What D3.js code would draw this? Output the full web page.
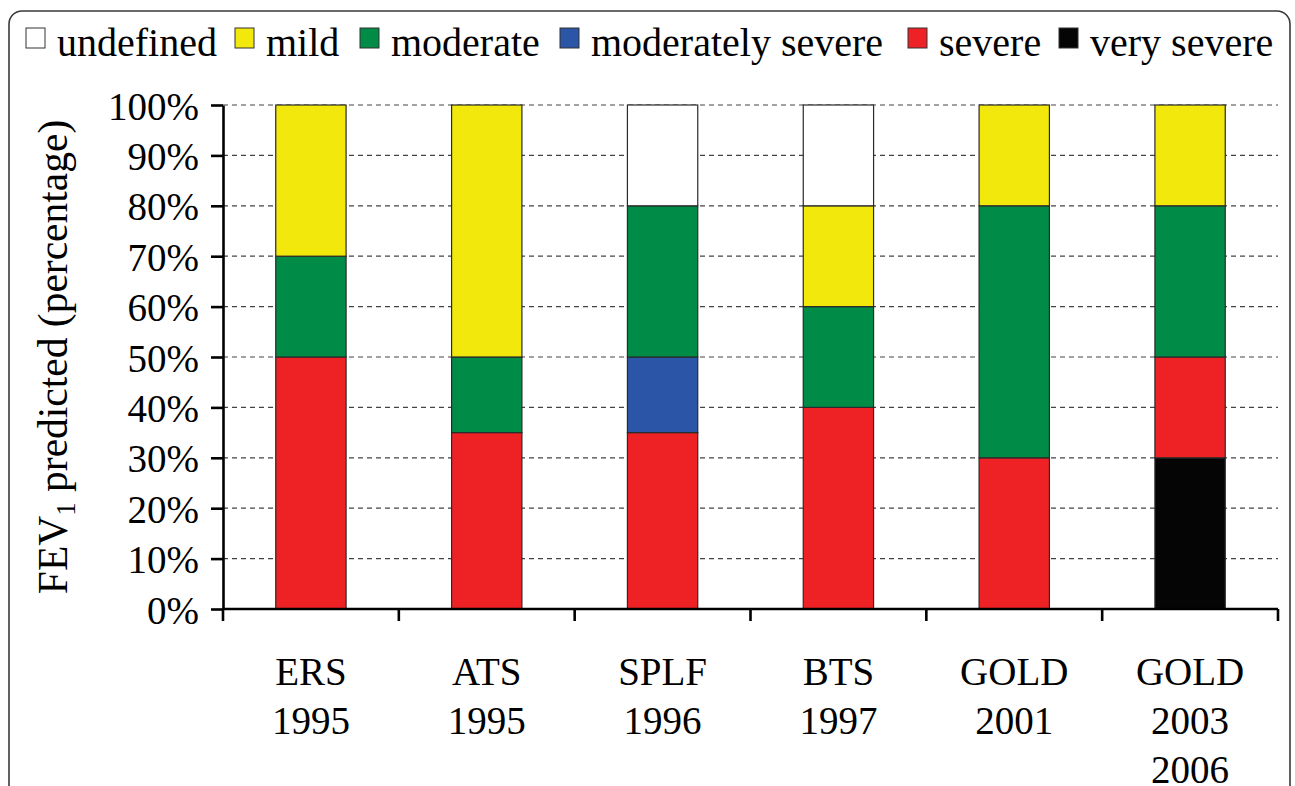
<!DOCTYPE html>
<html>
<head>
<meta charset="utf-8">
<script src="https://cdn.jsdelivr.net/npm/d3@7"></script>
<style>
body { margin: 0; background: #fff; }
svg { display: block; font-family: "Liberation Serif", "Times New Roman", serif; }
</style>
</head>
<body>
<svg id="chart" width="1295" height="786"></svg>
<script>
// categories (two-line labels)
var categories = ["ERS 1995", "ATS 1995", "SPLF 1996", "BTS 1997", "GOLD 2001", "GOLD 2003 2006"];
var catLines = [["ERS", "1995"], ["ATS", "1995"], ["SPLF", "1996"], ["BTS", "1997"], ["GOLD", "2001"], ["GOLD", "2003", "2006"]];

// severity series, stacked from the bottom
var severities = ["very severe", "severe", "moderately severe", "moderate", "mild", "undefined"];
var verySevere       = [0, 0, 0, 0, 0, 30];
var severe           = [50, 35, 35, 40, 30, 20];
var moderatelySevere = [0, 0, 15, 0, 0, 0];
var moderate         = [20, 15, 30, 20, 50, 30];
var mild             = [30, 50, 0, 20, 20, 20];
var undefinedShare   = [0, 0, 20, 20, 0, 0];

var legendOrder = ["undefined", "mild", "moderate", "moderately severe", "severe", "very severe"];
var yTicks = [0, 10, 20, 30, 40, 50, 60, 70, 80, 90, 100];

var colors = {
  "undefined": "#ffffff",
  "mild": "#f2e80b",
  "moderate": "#008c46",
  "moderately severe": "#2b55a6",
  "severe": "#ee2225",
  "very severe": "#050505"
};

var seriesValues = {
  "very severe": verySevere,
  "severe": severe,
  "moderately severe": moderatelySevere,
  "moderate": moderate,
  "mild": mild,
  "undefined": undefinedShare
};

var rows = categories.map(function(c, i) {
  var r = {cat: c};
  severities.forEach(function(s) { r[s] = seriesValues[s][i]; });
  return r;
});

var svg = d3.select("#chart");
var plotLeft = 223, plotRight = 1278, plotTop = 105, plotBottom = 609;

// frame
svg.append("rect")
  .attr("x", 9).attr("y", 11)
  .attr("width", 1281).attr("height", 800)
  .attr("rx", 13).attr("ry", 13)
  .attr("fill", "none")
  .attr("stroke", "#3a3a3a")
  .attr("stroke-width", 1.6);

var x = d3.scaleBand().domain(categories).range([plotLeft, plotRight]).paddingInner(0.6).paddingOuter(0.3);
var y = d3.scaleLinear().domain([0, 100]).range([plotBottom, plotTop]);

// dashed gridlines
svg.append("g")
  .selectAll("line")
  .data(yTicks.filter(function(d) { return d > 0; }))
  .enter()
  .append("line")
  .attr("x1", plotLeft).attr("x2", plotRight)
  .attr("y1", function(d) { return y(d); })
  .attr("y2", function(d) { return y(d); })
  .attr("stroke", "#444")
  .attr("stroke-width", 1.2)
  .attr("stroke-dasharray", "5,4");

// stacked bars
var stacked = d3.stack().keys(severities)(rows);
svg.append("g")
  .selectAll("g")
  .data(stacked)
  .enter()
  .append("g")
  .attr("fill", function(d) { return colors[d.key]; })
  .selectAll("rect")
  .data(function(d) { return d.filter(function(p) { return p[1] - p[0] > 0; }); })
  .enter()
  .append("rect")
  .attr("x", function(d) { return x(d.data.cat); })
  .attr("width", x.bandwidth())
  .attr("y", function(d) { return y(d[1]); })
  .attr("height", function(d) { return y(d[0]) - y(d[1]); })
  .attr("stroke", "#2a2a2a")
  .attr("stroke-width", 1.2);

// y axis
var yAxis = d3.axisLeft(y)
  .tickValues(yTicks)
  .tickFormat(function(d) { return d + "%"; })
  .tickSize(12)
  .tickSizeOuter(0)
  .tickPadding(12);

var ya = svg.append("g")
  .attr("transform", "translate(" + plotLeft + ",0)")
  .call(yAxis);
ya.attr("font-family", null);
ya.select(".domain").attr("stroke", "#000").attr("stroke-width", 2.6);
ya.selectAll(".tick line").attr("stroke", "#000").attr("stroke-width", 2.6);
ya.selectAll(".tick text")
  .attr("fill", "#000")
  .style("font-family", "'Liberation Serif', serif")
  .style("font-size", "39px")
  .attr("dy", "0.36em");

// x axis: baseline and ticks at category boundaries
svg.append("line")
  .attr("x1", plotLeft - 1).attr("x2", plotRight)
  .attr("y1", plotBottom).attr("y2", plotBottom)
  .attr("stroke", "#000").attr("stroke-width", 2.6);

var gap = (x.step() - x.bandwidth()) / 2;
var bounds = categories.map(function(c) { return x(c) - gap; });
bounds.push(plotRight);
svg.append("g")
  .selectAll("line")
  .data(bounds)
  .enter()
  .append("line")
  .attr("x1", function(d) { return d; })
  .attr("x2", function(d) { return d; })
  .attr("y1", plotBottom).attr("y2", plotBottom + 12)
  .attr("stroke", "#000").attr("stroke-width", 2.6);

// category labels
var catText = svg.append("g")
  .selectAll("text")
  .data(categories)
  .enter()
  .append("text")
  .attr("text-anchor", "middle")
  .attr("font-size", 39)
  .attr("fill", "#000");
catText.each(function(c, i) {
  var t = d3.select(this);
  catLines[i].forEach(function(line, j) {
    t.append("tspan")
      .attr("x", x(c) + x.bandwidth() / 2)
      .attr("y", 685 + j * 49)
      .text(line);
  });
});

// y axis title
var yt = svg.append("text")
  .attr("transform", "translate(67,357) rotate(-90)")
  .attr("text-anchor", "middle")
  .attr("font-size", 41.5)
  .attr("fill", "#000");
yt.append("tspan").text("FEV");
yt.append("tspan").attr("font-size", 27).attr("dy", 8).text("1");
yt.append("tspan").attr("dy", -8).text(" predicted (percentage)");

// legend
var legendX = [26, 235, 360, 560, 908, 1059];
var legend = svg.append("g")
  .selectAll("g")
  .data(legendOrder)
  .enter()
  .append("g")
  .attr("transform", function(d, i) { return "translate(" + legendX[i] + ",0)"; });
legend.append("rect")
  .attr("x", 0).attr("y", 28)
  .attr("width", 19).attr("height", 20)
  .attr("fill", function(d) { return colors[d]; })
  .attr("stroke", "#333")
  .attr("stroke-width", 1);
legend.append("text")
  .attr("x", 31).attr("y", 56)
  .attr("font-size", 40)
  .attr("fill", "#000")
  .text(function(d) { return d; });
</script>
</body>
</html>
